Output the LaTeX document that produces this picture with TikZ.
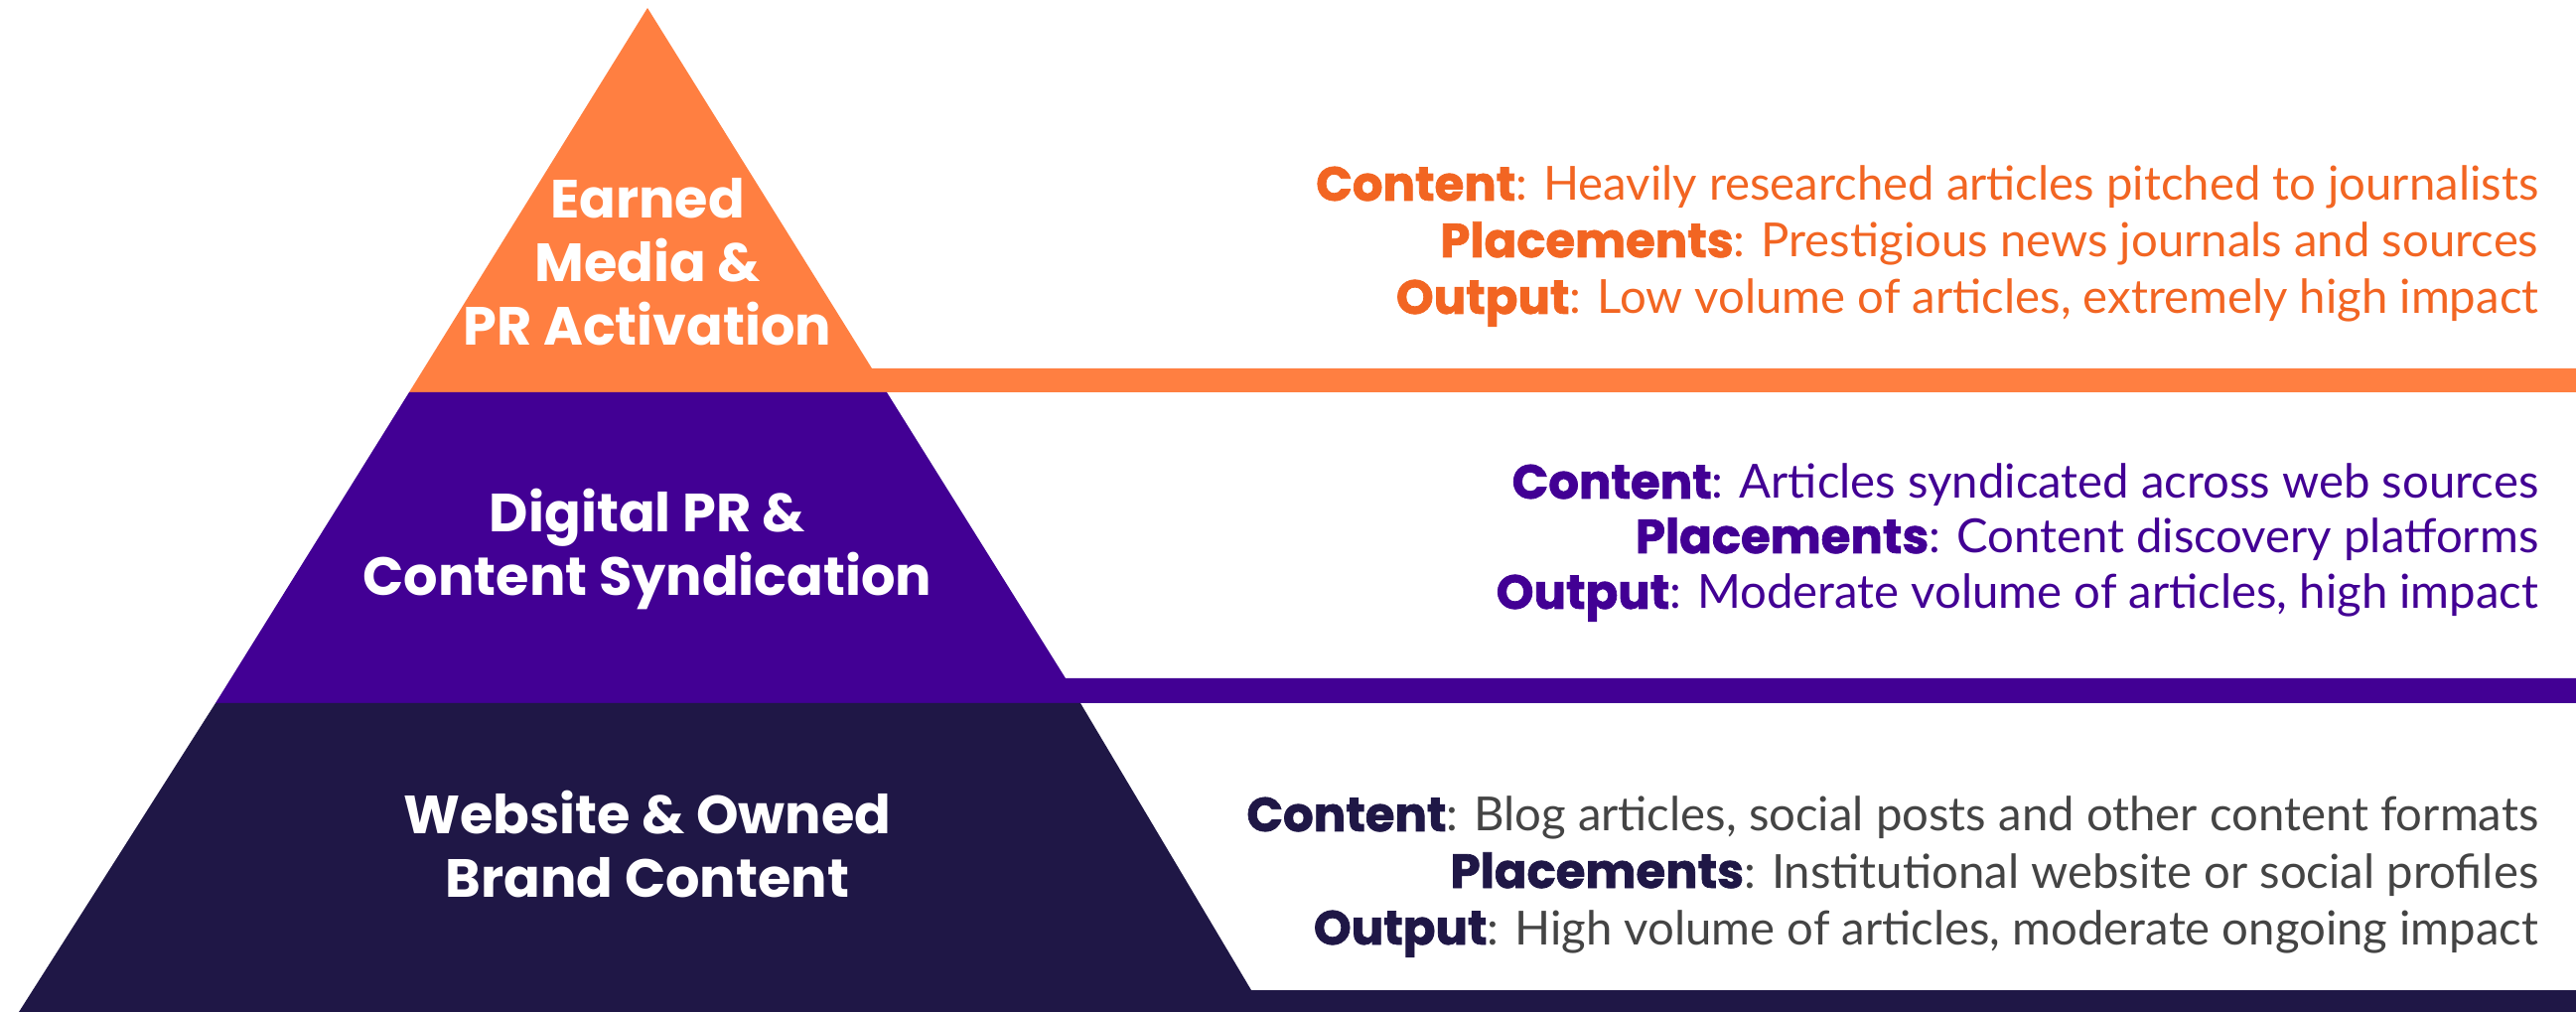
\documentclass[tikz,border=0pt]{standalone}
\usepackage{fontspec}
\setmainfont{Lato}
\newfontfamily\poppins{Poppins}
% thicker strokes for the row labels
\newfontfamily\poppinsheavy{Poppins}[BoldFeatures={FakeBold=1.5}]

\definecolor{tierorange}{HTML}{FF7F41}
\definecolor{txtorange}{HTML}{F26522}
\definecolor{tierpurple}{HTML}{420094}
\definecolor{tiernavy}{HTML}{1F1746}
\definecolor{txtgray}{HTML}{444444}

\newcommand{\lbl}[1]{{\poppinsheavy\bfseries\fontsize{13.7}{16}\selectfont #1}}

\tikzset{
  tiertitle/.style={text=white, align=center, inner sep=0pt,
    font=\poppins\bfseries\fontsize{15.4}{18.2}\selectfont},
  infoline/.style={anchor=base east, inner sep=0pt,
    font=\fontsize{13.45}{16}\selectfont},
}

\begin{document}
\begin{tikzpicture}[x=0.01cm, y=-0.01cm]
  \useasboundingbox (0,0) rectangle (2594,1019);

  % pyramid tiers, each running out into a bar on the right
  \fill[tierorange] (652,8) -- (878,371) -- (2594,371) -- (2594,395) -- (412,395) -- cycle;
  \fill[tierpurple] (412,395) -- (893,395) -- (1073,683) -- (2594,683) -- (2594,708) -- (217,708) -- cycle;
  \fill[tiernavy] (217,708) -- (1088,708) -- (1260,997) -- (2594,997) -- (2594,1019) -- (19,1019) -- cycle;

  % tier titles
  \node[tiertitle] (earned) at (652,264) {Earned\\Media \&\\PR Activation};
  \node[tiertitle] (digital) at (652,553) {Digital PR \&\\Content Syndication};
  \node[tiertitle] (website) at (652,850) {Website \& Owned\\Brand Content};

  % earned media
  \node[infoline, text=txtorange] (earnedc) at (2557,202) {\lbl{Content}: Heavily researched articles pitched to journalists};
  \node[infoline, text=txtorange] (earnedp) at (2557,259) {\lbl{Placements}: Prestigious news journals and sources};
  \node[infoline, text=txtorange] (earnedo) at (2557,316) {\lbl{Output}: Low volume of articles, extremely high impact};

  % digital PR
  \node[infoline, text=tierpurple] (digitalc) at (2557,502) {\lbl{Content}: Articles syndicated across web sources};
  \node[infoline, text=tierpurple] (digitalp) at (2557,557) {\lbl{Placements}: Content discovery platforms};
  \node[infoline, text=tierpurple] (digitalo) at (2557,613) {\lbl{Output}: Moderate volume of articles, high impact};

  % owned content
  \node[infoline, text=txtgray] (websitec) at (2557,837) {\lbl{\color{tiernavy}Content}: Blog articles, social posts and other content formats};
  \node[infoline, text=txtgray] (websitep) at (2557,894) {\lbl{\color{tiernavy}Placements}: Institutional website or social profiles};
  \node[infoline, text=txtgray] (websiteo) at (2557,951) {\lbl{\color{tiernavy}Output}: High volume of articles, moderate ongoing impact};
\end{tikzpicture}
\end{document}
